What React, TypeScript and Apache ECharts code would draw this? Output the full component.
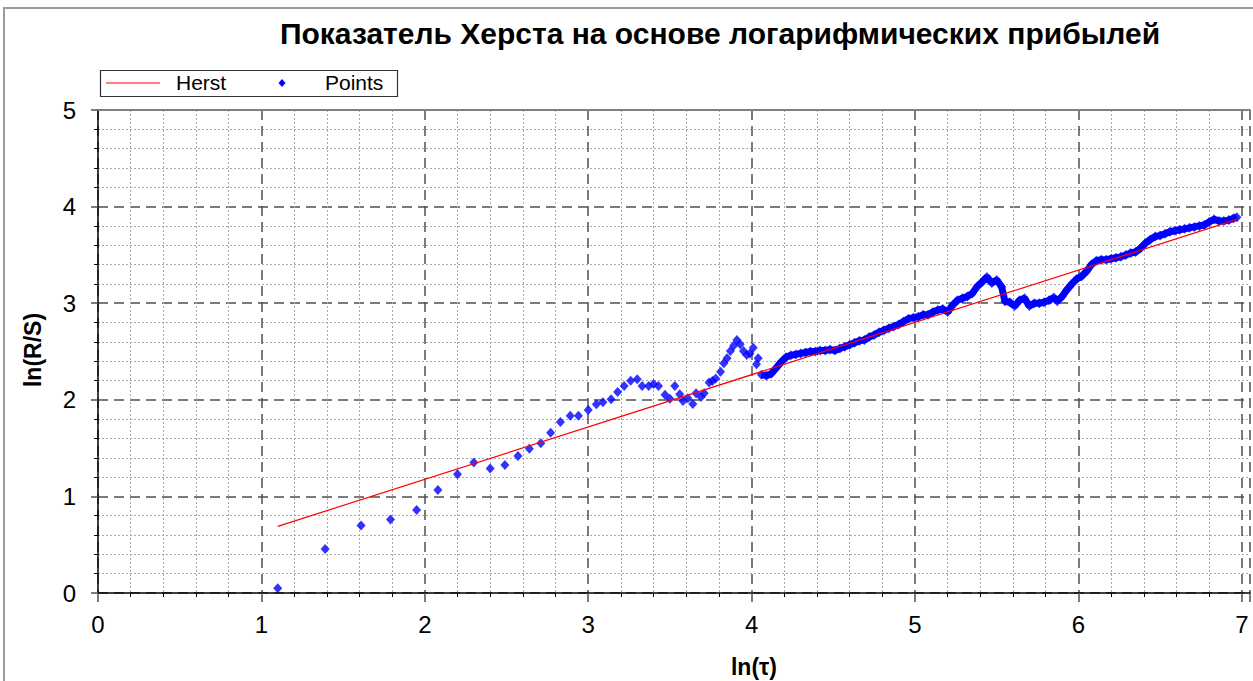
import React, { useEffect, useRef } from "react";
import * as echarts from "echarts";

const TITLE = "Показатель Херста на основе логарифмических прибылей";
const X_NAME = "ln(τ)";
const Y_NAME = "ln(R/S)";
const LEGEND_NAMES = ["Herst", "Points"];

// sparse points (small τ)
const sparseX = [1.10, 1.39, 1.61, 1.79, 1.95, 2.08, 2.20, 2.30, 2.40, 2.49, 2.57, 2.64, 2.71, 2.77, 2.83, 2.89, 2.94, 3.00, 3.05, 3.09, 3.14, 3.18, 3.22, 3.26, 3.30, 3.33, 3.37, 3.40, 3.43, 3.47, 3.50, 3.53, 3.56, 3.58, 3.61, 3.64, 3.66, 3.69, 3.71, 3.74, 3.76, 3.78, 3.81, 3.83, 3.85, 3.87, 3.89, 3.91, 3.93, 3.95, 3.97, 3.99, 4.01, 4.03, 4.04];
const sparseY = [0.05, 0.455, 0.70, 0.76, 0.86, 1.066, 1.23, 1.35, 1.29, 1.325, 1.418, 1.494, 1.55, 1.66, 1.77, 1.835, 1.835, 1.894, 1.953, 1.974, 2.005, 2.08, 2.143, 2.198, 2.212, 2.143, 2.143, 2.163, 2.143, 2.053, 2.011, 2.143, 2.057, 1.988, 2.015, 1.956, 2.067, 2.03, 2.067, 2.18, 2.195, 2.22, 2.29, 2.378, 2.43, 2.505, 2.56, 2.62, 2.575, 2.505, 2.464, 2.48, 2.54, 2.367, 2.43];

// dense points (large τ)
const denseX = [4.06, 4.09, 4.12, 4.15, 4.18, 4.21, 4.24, 4.27, 4.30, 4.33, 4.36, 4.39, 4.42, 4.45, 4.48, 4.51, 4.54, 4.57, 4.60, 4.63, 4.66, 4.69, 4.72, 4.75, 4.78, 4.81, 4.84, 4.87, 4.90, 4.93, 4.96, 4.99, 5.02, 5.05, 5.08, 5.11, 5.14, 5.17, 5.20, 5.23, 5.26, 5.29, 5.32, 5.35, 5.38, 5.41, 5.44, 5.47, 5.50, 5.53, 5.55, 5.58, 5.61, 5.64, 5.67, 5.70, 5.73, 5.76, 5.79, 5.82, 5.85, 5.87, 5.90, 5.93, 5.96, 5.99, 6.02, 6.05, 6.08, 6.11, 6.14, 6.17, 6.20, 6.23, 6.26, 6.29, 6.32, 6.35, 6.38, 6.41, 6.44, 6.47, 6.50, 6.53, 6.56, 6.59, 6.62, 6.65, 6.68, 6.71, 6.74, 6.77, 6.80, 6.83, 6.86, 6.89, 6.92, 6.95, 6.97];
const denseY = [2.26, 2.25, 2.27, 2.33, 2.39, 2.44, 2.46, 2.47, 2.48, 2.49, 2.50, 2.50, 2.51, 2.51, 2.52, 2.51, 2.53, 2.55, 2.57, 2.59, 2.61, 2.62, 2.65, 2.67, 2.70, 2.72, 2.74, 2.76, 2.78, 2.81, 2.84, 2.85, 2.86, 2.88, 2.88, 2.91, 2.93, 2.94, 2.91, 2.98, 3.03, 3.05, 3.07, 3.10, 3.17, 3.22, 3.27, 3.21, 3.24, 3.17, 3.02, 3.01, 2.97, 3.03, 3.05, 2.97, 3.00, 3.00, 3.01, 3.03, 3.06, 3.02, 3.07, 3.14, 3.20, 3.25, 3.28, 3.33, 3.40, 3.44, 3.45, 3.45, 3.46, 3.47, 3.48, 3.50, 3.52, 3.53, 3.57, 3.62, 3.66, 3.69, 3.70, 3.72, 3.74, 3.75, 3.76, 3.77, 3.78, 3.79, 3.80, 3.81, 3.84, 3.87, 3.85, 3.85, 3.86, 3.88, 3.89];

// Hurst regression line endpoints
const hurstX = [1.10, 6.975];
const hurstY = [0.69, 3.87];

const FONT = "'Liberation Sans', Arial, sans-serif";

export default function App() {
  const ref = useRef<HTMLDivElement>(null);
  useEffect(() => {
    if (!ref.current) return;
    const chart = echarts.init(ref.current, null, { renderer: "svg" });
    const pts = sparseX.map((x, i) => [x, sparseY[i]]).concat(denseX.map((x, i) => [x, denseY[i]]));
    const band = denseX.map((x, i) => [x, denseY[i]]);
    const hurst = hurstX.map((x, i) => [x, hurstY[i]]);
    const majorLine = { color: "#505050", width: 1.5, type: [10, 6] as any };
    chart.setOption({
      animation: false,
      backgroundColor: "#ffffff",
      textStyle: { fontFamily: FONT },
      grid: { left: 98, top: 110, width: 1156, height: 483, containLabel: false },
      xAxis: [
        {
          type: "value",
          min: 0,
          max: 7.05,
          interval: 1,
          axisLine: { lineStyle: { color: "#000", width: 1.5 } },
          axisTick: { show: true, length: 9, lineStyle: { color: "#505050", width: 1.5 } },
          minorTick: { show: true, splitNumber: 5, length: 4, lineStyle: { color: "#000", width: 1 } },
          splitLine: { show: true, lineStyle: majorLine },
          minorSplitLine: { show: true, lineStyle: { color: "#a8a8a8", width: 1, type: [2, 2] } },
          axisLabel: {
            fontSize: 24,
            color: "#000",
            margin: 19,
            fontFamily: FONT,
            formatter: (v: number) => (Number.isInteger(v) ? String(v) : ""),
          },
        },
        {
          type: "value",
          position: "top",
          min: 0,
          max: 7.05,
          axisLine: { show: true, lineStyle: { color: "#808080", width: 2 } },
          axisTick: { show: false },
          axisLabel: { show: false },
          splitLine: { show: false },
        },
      ],
      yAxis: {
        type: "value",
        min: 0,
        max: 5,
        interval: 1,
        axisLine: { show: true, lineStyle: { color: "#000", width: 1.5 } },
        axisTick: { show: true, length: 7, lineStyle: { color: "#505050", width: 1.5 } },
        minorTick: { show: true, splitNumber: 5, length: 4, lineStyle: { color: "#000", width: 1 } },
        splitLine: { show: true, lineStyle: majorLine },
        minorSplitLine: { show: true, lineStyle: { color: "#a8a8a8", width: 1, type: [2, 2] } },
        axisLabel: { fontSize: 24, color: "#000", margin: 22, fontFamily: FONT },
      },
      series: [
        {
          name: "band",
          type: "line",
          data: band,
          symbol: "none",
          lineStyle: { color: "#0000ff", width: 7 },
          z: 2,
          silent: true,
        },
        {
          name: LEGEND_NAMES[1],
          type: "scatter",
          data: pts,
          symbol: "diamond",
          symbolSize: [9, 10],
          itemStyle: { color: "#0000ff" },
          z: 3,
        },
        {
          name: LEGEND_NAMES[0],
          type: "line",
          data: hurst,
          symbol: "none",
          lineStyle: { color: "#ff0000", width: 1.2 },
          z: 4,
        },
      ],
      graphic: [
        {
          type: "rect",
          shape: { x: 4, y: 8, width: 1260, height: 690 },
          style: { fill: "none", stroke: "#9a9a9a", lineWidth: 2 },
          silent: true,
        },
        {
          type: "text",
          x: 720,
          y: 33,
          style: {
            text: TITLE,
            fontSize: 30,
            fontWeight: "bold",
            fontFamily: FONT,
            fill: "#000",
            align: "center",
            verticalAlign: "middle",
          },
        },
        {
          type: "rect",
          shape: { x: 100.5, y: 70.5, width: 297, height: 26 },
          style: { fill: "#fff", stroke: "#333", lineWidth: 1.2 },
        },
        {
          type: "line",
          shape: { x1: 106, y1: 83, x2: 160, y2: 83 },
          style: { stroke: "#ff0000", lineWidth: 1.2 },
        },
        {
          type: "text",
          x: 176,
          y: 82,
          style: { text: LEGEND_NAMES[0], fontSize: 21, fontFamily: FONT, fill: "#000", verticalAlign: "middle" },
        },
        {
          type: "polygon",
          shape: { points: [[282, 79], [285.5, 83], [282, 87], [278.5, 83]] },
          style: { fill: "#0000ff" },
        },
        {
          type: "text",
          x: 325,
          y: 82,
          style: { text: LEGEND_NAMES[1], fontSize: 21, fontFamily: FONT, fill: "#000", verticalAlign: "middle" },
        },
        {
          type: "text",
          x: 754,
          y: 667,
          style: {
            text: X_NAME,
            fontSize: 23,
            fontWeight: "bold",
            fontFamily: FONT,
            fill: "#000",
            align: "center",
            verticalAlign: "middle",
          },
        },
        {
          type: "text",
          x: 33,
          y: 350,
          rotation: Math.PI / 2,
          style: {
            text: Y_NAME,
            fontSize: 23,
            fontWeight: "bold",
            fontFamily: FONT,
            fill: "#000",
            align: "center",
            verticalAlign: "middle",
          },
        },
      ],
    });
    return () => chart.dispose();
  }, []);
  return (
    <div
      ref={ref}
      style={{ position: "fixed", left: 0, top: 0, width: 1253, height: 681, background: "#fff" }}
    />
  );
}
